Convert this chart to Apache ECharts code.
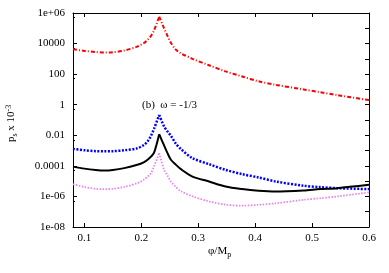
<!DOCTYPE html>
<html><head><meta charset="utf-8">
<script src="https://cdn.jsdelivr.net/npm/echarts@6/dist/echarts.min.js"></script>
<style>html,body{margin:0;padding:0;background:#fff}#c{width:389px;height:273px}</style>
</head><body><div id="c"></div>
<script>
var xs     = [0.08,0.10,0.12,0.135,0.15,0.17,0.193,0.205,0.211,0.217,0.2226,0.2314,0.24,0.246,0.252,0.2607,0.269,0.29,0.319,0.348,0.377,0.406,0.436,0.485,0.514,0.544,0.60];
var redV   = [4.27e3,3.31e3,2.82e3,2.57e3,2.69e3,3.55e3,6.31e3,1.12e4,1.74e4,3.16e4,7.76e4,5.75e5,1.0e5,3.16e4,1.12e4,3.98e3,2.34e3,1.0e3,3.8e2,1.51e2,70.8,33.9,20.0,10.0,6.61,4.27,2.0];
var blueV  = [1.29e-3,1.05e-3,9.1e-4,8.9e-4,9.1e-4,1.05e-3,1.41e-3,2.4e-3,3.98e-3,9.3e-3,2.82e-2,2.14e-1,3.8e-2,1.78e-2,9.3e-3,2.82e-3,1.32e-3,3.16e-4,1.29e-4,5.5e-5,2.88e-5,1.74e-5,9.5e-6,5.0e-6,4.07e-6,3.47e-6,3.02e-6];
var blackV = [8.9e-5,6.6e-5,5.4e-5,5.0e-5,5.4e-5,7.1e-5,1.17e-4,1.78e-4,2.51e-4,3.98e-4,7.6e-4,1.17e-2,2.19e-3,6.8e-4,2.51e-4,1.2e-4,6.3e-5,2.0e-5,9.5e-6,4.47e-6,3.02e-6,2.34e-6,2.09e-6,2.45e-6,3.02e-6,3.47e-6,5.75e-6];
var pinkV  = [6.3e-6,4.17e-6,3.16e-6,3.02e-6,3.16e-6,4.17e-6,7.4e-6,1.26e-5,2.0e-5,3.3e-5,1.0e-4,6.8e-4,5.5e-5,2.29e-5,9.5e-6,4.17e-6,2.24e-6,1.0e-6,4.7e-7,2.88e-7,2.51e-7,2.82e-7,3.55e-7,6.0e-7,7.6e-7,1.0e-6,1.82e-6];
var xTicks = [0.1,0.2,0.3,0.4,0.5,0.6];
var yTicks = ['1e+06','10000','100','1','0.01','0.0001','1e-06','1e-08'];
var peakIndex = 11;

function pairs(v, a, b){ var out=[]; for(var i=a;i<=b;i++){ out.push([xs[i], v[i]]); } return out; }
var FONT = 'Liberation Serif';
var ytickMap = {};
[6,4,2,0,-2,-4,-6,-8].forEach(function(e,i){ ytickMap[e]=yTicks[i]; });

var styles = [
  {v:redV,   ls:{color:'#ff0000', width:2, type:[4,2,1,2]}},
  {v:blueV,  ls:{color:'#0000ff', width:2.5, type:[2,1.5]}},
  {v:blackV, ls:{color:'#000000', width:2, type:'solid'}},
  {v:pinkV,  ls:{color:'#f080f0', width:1.8, type:[1.5,1.5]}}
];
var series = [];
styles.forEach(function(s){
  series.push({type:'line', data:pairs(s.v,0,peakIndex), showSymbol:false, smooth:0.3, lineStyle:s.ls});
  series.push({type:'line', data:pairs(s.v,peakIndex,xs.length-1), showSymbol:false, smooth:0.3, lineStyle:s.ls});
});

var chart = echarts.init(document.getElementById('c'));
var axisLine = {show:true, lineStyle:{color:'#000', width:1}};
chart.setOption({
  animation:false,
  grid:{left:73, right:20, top:13, bottom:46, containLabel:false},
  xAxis:[{
    type:'value', min:0.08, max:0.6, position:'bottom',
    axisLine:axisLine, splitLine:{show:false},
    axisTick:{show:true, inside:true, length:4, customValues:xTicks, lineStyle:{color:'#000'}},
    axisLabel:{show:true, customValues:xTicks, margin:6, color:'#000', fontFamily:FONT, fontSize:11,
      formatter:function(v){ return (Math.round(v*10)/10).toFixed(1); }}
  },{
    type:'value', min:0.08, max:0.6, position:'top',
    axisLine:axisLine, splitLine:{show:false},
    axisTick:{show:true, inside:true, length:4, customValues:[0.1,0.2,0.3,0.4,0.5], lineStyle:{color:'#000'}},
    axisLabel:{show:false}
  }],
  yAxis:[{
    type:'log', logBase:10, min:1e-8, max:1e6, interval:2, position:'left',
    axisLine:axisLine, splitLine:{show:false},
    axisTick:{show:true, inside:true, length:4, lineStyle:{color:'#000'}},
    minorTick:{show:true, splitNumber:2, length:2, lineStyle:{color:'#000'}},
    axisLabel:{show:true, margin:8, color:'#000', fontFamily:FONT, fontSize:11,
      formatter:function(v){ var e=Math.round(Math.log10(v)); return ytickMap[e]!==undefined?ytickMap[e]:''; }}
  },{
    type:'log', logBase:10, min:1e-8, max:1e6, interval:1, position:'right',
    axisLine:axisLine, splitLine:{show:false},
    axisTick:{show:true, inside:true, length:4, lineStyle:{color:'#000'}},
    axisLabel:{show:false}
  }],
  graphic:[
    {type:'text', left:142, top:100, style:{text:'(b)  ω = -1/3', font:'11px "Liberation Serif"', fill:'#000'}},
    {type:'text', x:208, y:244, style:{text:'φ/M{s|p}', rich:{s:{fontSize:8, fontFamily:FONT, padding:[7,0,0,0]}}, font:'11px "Liberation Serif"', fill:'#000'}},
    {type:'text', x:4, y:142, rotation:Math.PI/2, style:{text:'p{s|s} x 10{u|-3}', rich:{s:{fontSize:8, fontFamily:FONT, padding:[7,0,0,0]}, u:{fontSize:8, fontFamily:FONT, padding:[0,0,6,0]}}, font:'11px "Liberation Serif"', fill:'#000'}}
  ],
  series: series
});
</script></body></html>
